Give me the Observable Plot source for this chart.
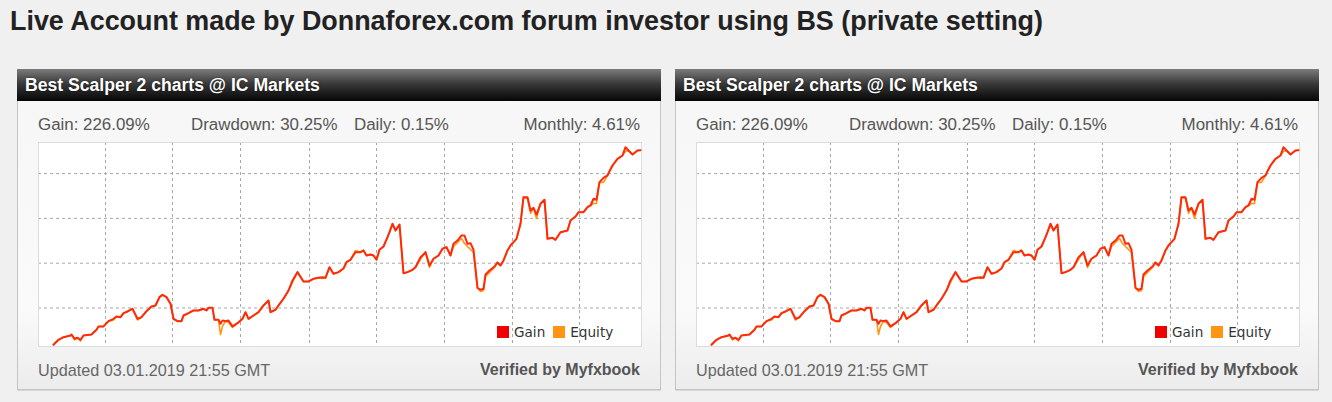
<!DOCTYPE html>
<html>
<head>
<meta charset="utf-8">
<script src="https://cdn.jsdelivr.net/npm/d3@7"></script>
<script src="https://cdn.jsdelivr.net/npm/@observablehq/plot@0.6"></script>
<style>
  html, body { margin: 0; padding: 0; background: #f0f0f0; width: 1332px; height: 402px; overflow: hidden; }
  body { position: relative; font-family: "Liberation Sans", Arial, sans-serif; }
  .title { position: absolute; left: 10px; top: 7.5px; font-size: 26.9px; line-height: 1; font-weight: bold; color: #222; white-space: nowrap; }
  .panel { position: absolute; top: 69px; width: 642px; height: 319px; border: 1px solid #c4c4c4;
           background: linear-gradient(#f6f6f6 0%, #fafafa 75%, #ececec 100%); box-shadow: 0 1px 0 #d6d6d6; }
  .head { position: absolute; left: -1px; top: -1px; width: 644px; height: 32px;
          background: linear-gradient(#7c7c7c 0%, #3a3a3a 45%, #050505 100%); }
  .head span { position: absolute; left: 8px; top: 8.2px; font-size: 17.6px; line-height: 1; font-weight: bold; color: #fff;
               white-space: nowrap; text-shadow: 0 0 2px rgba(0,0,0,0.6); }
  .stat { position: absolute; top: 46.5px; font-size: 16.9px; line-height: 1; color: #555; white-space: nowrap; }
  .foot { position: absolute; top: 291.5px; font-size: 16.2px; line-height: 1; color: #666; white-space: nowrap; }
  .ver { font-weight: bold; color: #555; font-size: 16px; }
  .chart { position: absolute; left: 20px; top: 72px; width: 603px; height: 204px; background: #fff; }
  .legend { position: absolute; left: 479px; top: 256px; height: 14px; font-family: "DejaVu Sans", Verdana, sans-serif;
            font-size: 13.6px; line-height: 1; color: #333; white-space: nowrap; }
  .legend i { display: inline-block; width: 12px; height: 12px; vertical-align: -1px; margin-right: 5px; }
</style>
</head>
<body>
<div class="title" id="title"></div>
<script>
// ---- data ----
const title = "Live Account made by Donnaforex.com forum investor using BS (private setting)";
const panelTitle = "Best Scalper 2 charts @ IC Markets";
const statLabels = ["Gain: 226.09%", "Drawdown: 30.25%", "Daily: 0.15%", "Monthly: 4.61%"];
const updatedText = "Updated 03.01.2019 21:55 GMT";
const verifiedText = "Verified by Myfxbook";
const seriesNames = ["Gain", "Equity"];
const seriesColors = ["#f00000", "#ff9512"];

// time step (horizontal position index) of each sample
const steps = [15,20,25,28,32,33,36,39,42,45,53,58,60,65,70,75,78,82,85,89,92,94,99,103,108,113,117,121,124,128,132,135,139,143,145,150,155,160,165,168,170,174,176,180,182,184,187,190,194,199,204,207,210,215,220,225,230,232,237,240,245,250,254,259,265,270,275,280,284,287,291,295,300,305,308,312,317,322,325,328,332,335,338,341,345,349,351,354,357,361,365,369,374,377,382,385,387,391,395,400,404,408,412,415,419,423,426,429,432,435,439,442,445,447,451,456,459,462,465,469,472,478,482,485,489,492,495,498,502,506,509,514,517,522,529,532,537,540,545,549,552,555,558,561,565,569,571,574,579,584,587,590,594,599,602];
// gain in percent
const gain = [8.9,14.5,17.4,18.2,19.3,20.4,15.6,16.7,14.5,19.3,20.4,25.7,29.4,29.4,35.3,37.9,40.5,39.7,44.2,46.1,48.0,49.1,37.9,39.7,46.4,51.7,52.8,62.1,64.7,62.1,54.7,37.9,35.3,35.3,41.6,44.2,47.2,47.2,49.1,47.2,50.2,50.2,36.8,36.8,32.4,36.0,35.3,36.0,29.4,33.0,37.9,45.3,37.9,41.6,45.3,52.8,58.4,45.3,48.0,52.8,60.3,69.5,80.7,90.0,79.6,79.6,82.6,83.7,84.4,83.7,95.5,88.2,90.0,94.1,101.1,103.8,112.3,112.3,114.2,108.6,109.7,108.6,103.8,115.0,118.6,129.0,134.6,144.0,136.5,143.2,88.8,90.0,92.6,95.5,106.7,109.7,112.3,97.4,104.9,108.6,116.1,117.9,108.6,121.6,125.3,130.9,130.9,121.6,122.3,115.0,72.5,70.3,71.4,87.4,91.9,96.3,100.8,97.4,103.0,114.2,119.8,127.2,144.0,173.7,173.7,158.8,161.8,154.3,166.3,170.8,127.2,128.3,126.1,134.6,136.5,147.7,152.1,156.9,156.9,162.5,164.4,171.9,170.8,190.4,195.3,197.9,202.7,209.0,216.5,220.2,229.5,225.8,221.3,225.8,226.09];
// equity in percent
const equity = [8.9,14.5,17.4,18.2,19.3,20.4,14.3,16.7,13.2,19.3,20.4,25.7,29.4,29.4,35.3,36.6,40.5,39.7,44.2,46.1,48.0,49.1,36.6,39.7,46.4,51.7,52.8,62.1,64.7,62.1,54.7,37.9,35.3,35.3,41.6,44.2,47.2,47.2,49.1,47.2,50.2,50.2,36.8,36.8,20.4,29.4,35.3,33.8,28.2,33.0,37.9,45.3,37.9,41.6,45.3,52.8,58.4,45.3,48.0,52.8,60.3,69.5,78.5,90.0,79.6,79.6,82.6,83.7,82.9,83.7,95.5,88.2,90.0,94.1,101.1,103.8,114.2,112.3,114.2,108.6,109.7,108.6,103.8,115.0,118.6,129.0,134.6,144.0,136.5,143.2,88.8,90.0,92.6,95.5,104.1,109.7,112.3,95.2,104.9,108.6,116.1,117.9,108.6,118.6,123.1,127.6,122.0,118.6,115.3,111.9,72.5,68.4,69.5,85.2,89.6,95.2,100.8,97.4,103.0,114.2,119.8,127.2,144.0,173.7,172.2,155.5,161.8,149.9,166.3,170.8,127.2,128.3,126.1,134.6,136.5,147.7,152.1,156.9,156.9,162.5,164.4,166.6,166.6,190.4,190.1,197.9,202.7,209.0,216.5,220.2,224.7,225.8,221.3,225.8,226.09];
// grid tick values
const stepTicks = [67, 134, 202, 271, 338, 406, 474, 541];
const gainTicks = [50, 100, 150, 200];
const stepDomain = [0, 603];
const gainDomain = [7, 234.7];

document.getElementById("title").textContent = title;

const gainRows = steps.map((s, i) => ({step: s, value: gain[i]}));
const equityRows = steps.map((s, i) => ({step: s, value: equity[i]}));

function makeChart() {
  return Plot.plot({
    width: 603, height: 204,
    margin: 0,
    style: {background: "#fff", overflow: "visible"},
    x: {domain: stepDomain, axis: null},
    y: {domain: gainDomain, axis: null},
    marks: [
      Plot.gridX(stepTicks, {stroke: "#a8a8a8", strokeOpacity: 1, strokeDasharray: "3,3"}),
      Plot.gridY(gainTicks, {stroke: "#a8a8a8", strokeOpacity: 1, strokeDasharray: "3,3"}),
      Plot.frame({stroke: "#dcdcdc"}),
      Plot.line(equityRows, {x: "step", y: "value", stroke: seriesColors[1], strokeWidth: 1.6, curve: "linear"}),
      Plot.line(gainRows, {x: "step", y: "value", stroke: "#ff2a0a", strokeWidth: 2, curve: "linear"})
    ]
  });
}

function makePanel(left) {
  const p = document.createElement("div");
  p.className = "panel";
  p.style.left = left + "px";
  const h = document.createElement("div");
  h.className = "head";
  const hs = document.createElement("span");
  hs.textContent = panelTitle;
  h.appendChild(hs);
  p.appendChild(h);
  const statLeft = [20, 173, 336, null];
  statLabels.forEach((t, i) => {
    const d = document.createElement("div");
    d.className = "stat";
    d.textContent = t;
    if (statLeft[i] !== null) d.style.left = statLeft[i] + "px";
    else d.style.right = "20px";
    p.appendChild(d);
  });
  const c = document.createElement("div");
  c.className = "chart";
  c.appendChild(makeChart());
  p.appendChild(c);
  const lg = document.createElement("div");
  lg.className = "legend";
  lg.innerHTML = `<i style="background:${seriesColors[0]}"></i>${seriesNames[0]}<i style="background:${seriesColors[1]};margin-left:8px"></i>${seriesNames[1]}`;
  p.appendChild(lg);
  const u = document.createElement("div");
  u.className = "foot";
  u.style.left = "20px";
  u.textContent = updatedText;
  p.appendChild(u);
  const v = document.createElement("div");
  v.className = "foot ver";
  v.style.right = "20px";
  v.textContent = verifiedText;
  p.appendChild(v);
  document.body.appendChild(p);
}

makePanel(17);
makePanel(675);
</script>
</body>
</html>
